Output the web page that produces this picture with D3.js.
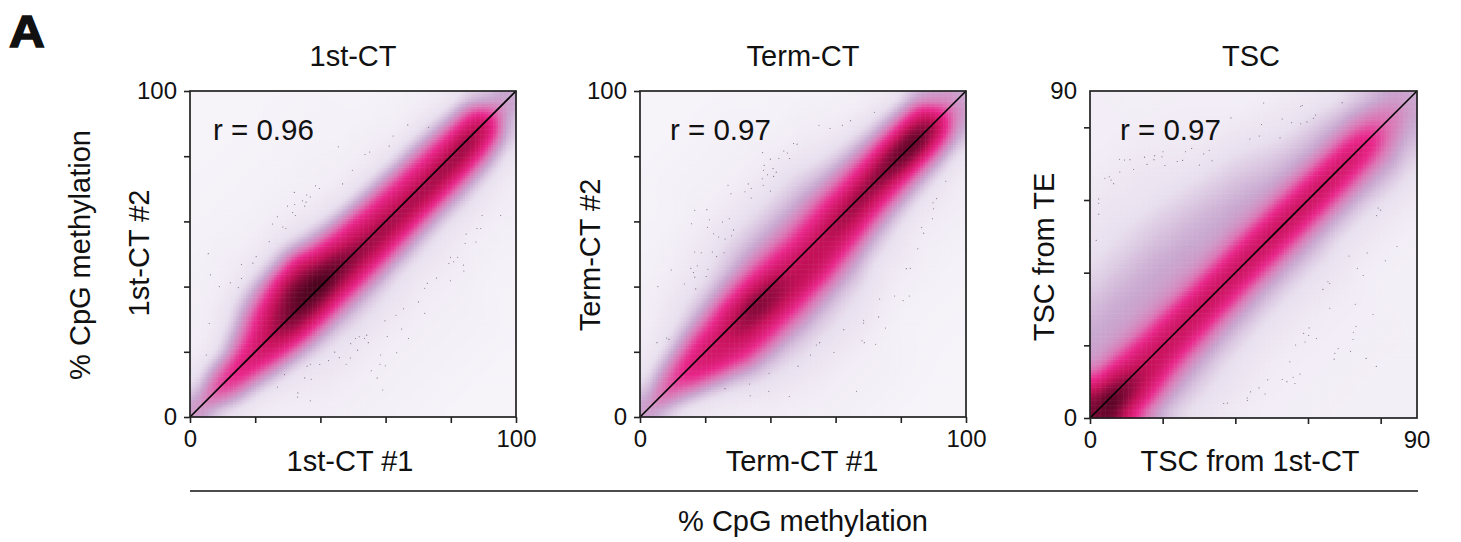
<!DOCTYPE html>
<html>
<head>
<meta charset="utf-8">
<script src="https://cdn.jsdelivr.net/npm/d3@7"></script>
<style>
body { margin: 0; background: #fff; }
text { font-family: "Liberation Sans", Arial, sans-serif; fill: #111; }
</style>
</head>
<body>
<div id="app"></div>
<script>
// density, on diagonal coordinates:
// along = (x+y)/2, across = y-x, both in % of the axis. One row per along value.
const along = [0,5,10,15,20,25,30,35,40,45,50,55,60,65,70,75,80,85,90,95,100];
const across = [-80,-50,-40,-30,-24,-20,-16,-12,-8,-4,0,4,8,12,16,20,24,30,40,50,80];

const density1 = [
 [0,0,0,0,.1,.2,.3,.4,.6,1.4,2.2,1.4,.6,.4,.3,.2,.1,0,0,0,0],
 [0,0,0,0,.1,.2,.3,.5,1,2.1,3.1,2.1,1,.5,.3,.2,.1,.1,0,0,0],
 [0,0,.1,.1,.2,.3,.6,1.1,2.1,3.4,3.9,3.2,1.8,.9,.5,.3,.2,.1,.1,0,0],
 [0,.1,.2,.3,.4,.5,.8,1.4,2.8,4.1,4.4,3.8,2.1,1,.6,.4,.3,.2,.1,.1,0],
 [0,.1,.3,.4,.5,.7,1.1,2.1,3.6,4.5,4.7,4.3,3.2,2.1,1.1,.7,.5,.3,.2,.1,0],
 [0,.2,.3,.5,.7,.9,1.4,2.8,4.3,5,5.2,4.9,4.4,3.5,2.2,1.3,.8,.4,.2,.1,0],
 [0,.2,.3,.6,.8,1.1,1.8,3.3,4.7,5.6,6.1,5.7,5.1,4.4,3.1,1.9,1,.5,.3,.1,0],
 [0,.2,.3,.6,.9,1.2,1.9,3.4,4.9,5.8,6.6,6.4,6,5,4,2.1,1.1,.5,.2,.1,0],
 [0,.2,.3,.6,1,1.3,2,3.4,4.8,5.8,6.9,6.6,5.7,5.1,4.1,2.3,1.2,.6,.2,.1,0],
 [0,.2,.3,.6,1,1.3,2,3.4,4.8,5.5,6.4,6,5.1,4.2,2.8,1.5,.9,.5,.2,.1,0],
 [0,.2,.3,.6,.9,1.2,2,3.4,4.7,5.4,5.9,5.3,4.6,3.7,2.1,1.1,.7,.4,.2,.1,0],
 [0,.2,.3,.5,.8,1.1,1.9,3.3,4.7,5.4,5.6,4.9,4.4,3.3,1.7,.9,.6,.3,.2,.1,0],
 [0,.2,.3,.5,.8,1.1,1.8,3.2,4.6,5.4,5.5,4.8,4.2,3,1.5,.8,.5,.3,.2,.1,0],
 [0,.1,.3,.5,.7,1,1.7,3.1,4.6,5.3,5.4,4.6,4.1,2.8,1.4,.8,.5,.3,.1,.1,0],
 [0,.1,.2,.4,.7,1,1.6,3,4.6,5.4,5.4,4.6,4,2.6,1.3,.7,.5,.3,.1,.1,0],
 [0,.1,.2,.4,.7,1,1.6,3,4.6,5.4,5.5,4.6,3.9,2.5,1.3,.7,.4,.2,.1,0,0],
 [0,.1,.2,.4,.6,.9,1.5,2.9,4.5,5.5,5.6,4.6,3.8,2.3,1.2,.7,.4,.2,.1,0,0],
 [0,.1,.2,.3,.5,.8,1.3,2.6,4.3,5.3,5.7,4.8,3.7,2,1,.6,.4,.2,.1,0,0],
 [0,.1,.2,.3,.4,.6,1,1.8,3.4,4.7,5.1,4.6,3.4,1.8,.9,.5,.3,.1,0,0,0],
 [0,0,.1,.2,.3,.4,.5,.8,1.2,2.2,2.7,2.2,1.2,.8,.5,.3,.2,.1,0,0,0],
 [0,0,.1,.2,.3,.4,.5,.7,1,1.5,1.8,1.5,1,.7,.5,.3,.2,.1,0,0,0]
];
const density2 = [
 [0,0,0,0,.1,.2,.3,.4,.7,1.4,2,1.4,.7,.4,.3,.2,.1,0,0,0,0],
 [0,0,0,.1,.2,.3,.4,.6,1.1,2.1,3,2.1,1.1,.6,.4,.3,.2,.1,0,0,0],
 [0,0,.1,.2,.3,.4,.6,1,1.9,3.1,3.7,3.1,1.9,1,.6,.4,.3,.1,.1,0,0],
 [0,.1,.2,.3,.5,.7,1.1,1.9,3.4,4.2,4.4,3.9,2.6,1.4,.8,.6,.4,.2,.1,.1,0],
 [0,.1,.3,.5,.9,1.2,1.9,3.3,4.3,4.7,4.7,4.3,3.3,2,1.2,.8,.6,.4,.2,.1,0],
 [0,.2,.4,.8,1.3,2,3.2,4.2,4.7,4.9,4.9,4.4,3.7,2.4,1.5,1.1,.8,.5,.2,.1,0],
 [0,.3,.5,1,1.5,2.3,3.5,4.4,5,5.5,5.5,4.8,4.1,2.8,1.8,1.2,.9,.6,.3,.1,0],
 [0,.3,.6,1.1,1.6,2.4,3.5,4.4,5.2,5.9,6,5.1,4.2,3.1,2,1.4,1.1,.7,.4,.1,0],
 [0,.3,.6,1.1,1.7,2.5,3.5,4.5,5.2,5.6,5.7,4.9,4.1,3.1,2.2,1.6,1.3,.9,.4,.2,0],
 [0,.3,.6,1.1,1.6,2.4,3.3,4.5,5.1,5.1,5.1,4.6,3.9,3,2.2,1.7,1.3,.9,.4,.2,0],
 [0,.2,.6,1,1.5,2.2,3.3,4.4,5,5.1,5,4.4,3.8,2.9,2.2,1.7,1.3,.9,.4,.2,0],
 [0,.1,.4,.9,1.4,2,2.9,4.1,4.8,5.1,5.1,4.5,3.9,3,2.2,1.7,1.3,.9,.4,.2,0],
 [0,.1,.3,.6,1,1.6,2.4,3.8,4.7,5.3,5.4,4.7,4.1,3.1,2.2,1.7,1.3,.9,.4,.2,0],
 [0,.1,.3,.6,.9,1.3,2,3.3,4.5,5.3,5.7,4.9,4.1,3.1,2.1,1.5,1.1,.7,.3,.1,0],
 [0,.1,.2,.4,.7,1.1,1.7,2.9,4.3,5.1,5.9,5.1,4.2,3.1,2,1.3,.9,.5,.3,.1,0],
 [0,.1,.2,.4,.6,.9,1.5,2.7,4.2,5.3,6.1,5.5,4.4,3.1,1.8,1.2,.7,.4,.2,.1,0],
 [0,.1,.2,.4,.6,.8,1.4,2.5,4.2,5.7,6.4,5.9,4.6,3.1,1.7,1,.6,.3,.1,0,0],
 [0,.1,.2,.3,.5,.8,1.2,2.4,4.2,5.6,6.6,5.9,4.7,3,1.5,.9,.5,.3,.1,0,0],
 [0,.1,.2,.3,.4,.6,1.1,2,3.6,4.9,5.6,5.1,4.3,2.8,1.4,.7,.4,.2,.1,0,0],
 [0,0,.1,.2,.3,.4,.7,1.1,1.9,2.7,3.1,2.7,1.9,1.1,.6,.3,.2,.1,0,0,0],
 [0,0,.1,.2,.3,.4,.5,.7,1,1.4,1.6,1.4,1,.7,.5,.3,.2,.1,0,0,0]
];
const density3 = [
 [.2,.3,.4,.7,1,1.4,2,3,4.4,5.4,5.8,5.4,4.6,3,2.2,2,1.9,1.7,1.2,.8,.3],
 [.2,.3,.4,.7,1,1.4,2.5,4.2,5.4,6.6,6.6,5.8,4.8,3.6,2.4,2.1,2,1.8,1.3,.8,.3],
 [.2,.3,.5,1,1.4,1.9,2.8,4.2,5,5.8,6,5.2,4.4,3.2,2.3,2.1,2,1.8,1.3,.8,.3],
 [.2,.3,.5,.9,1.3,1.8,2.5,3.7,4.7,5.1,5.2,4.7,4.1,3,2.3,2.1,2,1.8,1.3,.8,.3],
 [.2,.3,.5,.9,1.3,1.7,2.3,3.2,4.3,4.9,5,4.6,3.9,2.9,2.3,2.1,2,1.8,1.3,.9,.3],
 [.2,.3,.5,.9,1.2,1.6,2.1,3,4.1,4.8,5,4.6,3.9,2.8,2.3,2.1,2,1.8,1.3,.9,.3],
 [.2,.3,.5,.8,1.1,1.5,2,2.8,4,4.7,5,4.6,3.9,2.7,2.3,2.1,2,1.8,1.3,.9,.3],
 [.2,.3,.4,.7,1.1,1.4,1.9,2.6,3.9,4.7,5,4.6,3.8,2.7,2.3,2.1,2,1.8,1.3,.9,.3],
 [.2,.3,.4,.7,1,1.4,1.9,2.5,3.8,4.6,5,4.6,3.8,2.7,2.2,2.1,2,1.7,1.3,.8,.3],
 [.2,.3,.4,.7,1,1.3,1.8,2.4,3.7,4.6,5,4.6,3.8,2.7,2.2,2,1.9,1.7,1.2,.8,.3],
 [.2,.3,.4,.7,1,1.3,1.8,2.4,3.7,4.6,5,4.6,3.8,2.7,2.2,2,1.9,1.6,1.1,.7,.3],
 [.2,.3,.4,.7,1,1.3,1.8,2.4,3.7,4.6,5,4.6,3.8,2.6,2.2,2,1.8,1.5,1,.6,.2],
 [.2,.3,.4,.7,1,1.3,1.8,2.4,3.7,4.6,5,4.6,3.7,2.6,2.1,1.9,1.7,1.4,.9,.5,.2],
 [.2,.2,.3,.6,.9,1.2,1.7,2.4,3.6,4.6,5,4.5,3.6,2.5,2,1.7,1.5,1.2,.8,.4,.2],
 [.2,.2,.3,.6,.9,1.2,1.7,2.4,3.6,4.6,4.9,4.5,3.5,2.4,1.9,1.6,1.3,1,.6,.3,.2],
 [.2,.2,.3,.6,.9,1.2,1.7,2.4,3.5,4.5,4.8,4.4,3.4,2.3,1.8,1.5,1.2,.8,.5,.2,.2],
 [.2,.2,.3,.6,1,1.3,1.8,2.3,3.4,4.4,4.7,4.3,3.3,2.3,1.8,1.4,1.1,.7,.4,.2,.2],
 [.2,.2,.3,.6,1,1.3,1.8,2.3,3.1,4,4.3,3.9,3,2.2,1.6,1.2,.9,.6,.3,.2,.2],
 [.2,.2,.3,.5,.9,1.1,1.5,1.9,2.4,3,3.2,3,2.4,1.9,1.4,1.1,.8,.5,.3,.2,.2],
 [.2,.2,.3,.5,.8,1,1.3,1.6,1.9,2.3,2.5,2.3,2,1.5,1.2,.9,.6,.4,.3,.2,.2],
 [.2,.2,.3,.5,.8,1,1.2,1.4,1.6,1.7,1.8,1.7,1.6,1.3,1.1,.8,.6,.4,.3,.2,.2]
];

// outlier specks [x, y] in axis units
const points1 = [[66.8,89.6],[73.2,88.9],[62.3,86.2],[61.1,83.1],[45.5,82.9],[55.1,81.3],[53.7,80.5],[49.8,75.7],[46.8,71.5],[38.5,70.9],[39.7,70.1],[32,68.9],[36.9,67.5],[35.8,68.1],[34.5,66.3],[35.6,65.9],[29.9,64.7],[32.1,65.2],[35.2,64.7],[31.5,62.7],[32.3,61.8],[26.8,61.4],[25.3,59.2],[28.5,58.3],[29.4,57.8],[24.3,53.8],[5.6,50.1],[20.3,49.2],[15.8,46.8],[19.3,47.2],[6.3,43.6],[15.8,42.5],[12.4,41.2],[9,40],[14.8,39.7],[5.9,28.7],[5,19],[89.6,61.8],[95.3,61.8],[88,57.8],[89.2,57.8],[84.7,56.1],[84.4,53.2],[87.7,53.7],[79.9,49],[82.1,49],[80.9,47.6],[79.4,47.1],[83.9,46.6],[84,44.8],[79.9,41.8],[75.6,42.6],[72.8,41],[72,39.5],[70.1,35.3],[65.5,33.2],[63.2,31.2],[72,31.8],[59.8,29.5],[64.9,27],[60.5,24.7],[67,24.1],[51.9,24.6],[50.8,24.1],[53.5,24.1],[54.2,25.1],[54.7,22.8],[49.3,22.5],[51.4,20.5],[44.4,19.9],[45.8,18.2],[63.4,19.7],[58.5,19],[49.2,18.1],[42.5,17.3],[47.9,16.2],[39.8,16.1],[36.9,16.2],[35.9,15.6],[58.3,16.2],[59.9,15.7],[55.6,14.2],[29,13],[35.2,12],[37.2,11.6],[57.4,12],[26.8,9.2],[59.1,8.3],[33.1,7.4],[33,6.1],[36.9,5]];
const points2 = [[71.9,93.5],[64.6,90.9],[62.1,89.5],[58.3,88.5],[54.9,89.5],[47.1,83.9],[48.2,83.7],[44.1,81.6],[45.2,81],[37.6,81.1],[45.9,79.3],[40,79.1],[42.6,79.3],[38.1,77.2],[40.8,76.2],[37.9,75.7],[41.8,75.1],[39.1,74.3],[41,73.8],[37.5,73.1],[37.8,71.1],[27,71.1],[33.2,71.5],[34.1,70.1],[32.2,69.1],[40,69.3],[27.9,68.5],[34.1,67.2],[16.8,63.4],[20.5,63.6],[21.3,60.5],[27.4,60.8],[25.3,59.8],[15.8,59.3],[20.7,58.2],[28.7,57.4],[22.6,56.2],[28.1,55.6],[24.1,55.2],[26.1,54.6],[16.8,50.6],[18.8,50.4],[22.2,50.6],[25.8,50.4],[23.5,49.2],[17.6,46.4],[15.6,45.6],[20.8,45.3],[9.6,45.1],[16.4,44.3],[16.8,42.9],[20.3,43.1],[13.6,40.8],[5.5,40],[17.1,39.3],[5.2,22.8],[8.2,24.2],[8.9,23.8],[93.8,72.3],[91,67],[89.9,65.7],[90,63.9],[89.7,60.8],[86.4,58.1],[87,56.4],[85.2,51.6],[81.7,45.5],[82.9,45.6],[78.1,37.1],[82.6,37.1],[80.7,35.7],[73.5,36.2],[73.2,30.7],[68.6,29.7],[68.6,28.8],[75.3,27.3],[62.5,26.8],[68.1,23.4],[68.8,22.8],[72.3,22.3],[55.1,22.8],[54.1,22.1],[59.5,19.8],[52.3,19],[48.5,15.6],[39.6,13.4],[33.6,10.1],[26.1,8.7],[39.5,7.9],[33.8,6.5],[45.8,6.3],[66.4,7.9]];
const points3 = [[47.8,86.7],[58,85.8],[58.4,86],[69.4,86.8],[38.8,82.6],[62.1,83.4],[61.5,82.5],[59.7,81.5],[58,81],[55.5,81.3],[52.9,82.3],[47.2,80.8],[46.6,77.6],[44,76.8],[52.3,77.1],[28,74.2],[32.8,73.7],[31.3,72.7],[26.3,73.3],[20.1,73.3],[17.8,72.2],[15,71.8],[8.1,71.2],[9.5,71],[11,71.1],[17.6,71.1],[19.8,71.9],[24,70.6],[25.5,70.9],[33.6,70.8],[15.7,69.8],[20.6,69.5],[30.1,69.6],[12,68.4],[8.2,67.7],[4.1,66],[5.3,66.4],[5.8,65.5],[6.5,64.5],[2.4,60.3],[2.4,59.1],[2.4,56.1],[1.7,48.9],[79.3,57.8],[80,57.2],[78.9,55.7],[84.5,47.2],[76.3,45.4],[71.3,44.6],[81.3,43.3],[73.6,41.2],[75.2,39.2],[65.5,37.5],[66,37],[64.1,35.4],[73,31.3],[66,30.2],[77.9,28.5],[73.2,25.2],[72.5,23.6],[60.3,24.8],[58.8,23.3],[60.2,22.7],[62.3,21.9],[59.2,20.9],[56.6,20.1],[72.4,21.6],[68.3,19.1],[67.4,17.8],[71.7,18.3],[67.2,16.2],[76,16.4],[78.8,14.2],[55,15.5],[57.8,12.1],[55.9,11.2],[52.9,10.6],[54.2,10],[56.4,9.5],[48.9,10.5],[46.5,8.3],[44.2,7.2],[48.2,6.6],[43.3,5.5],[43.3,4.8],[36.8,4],[37.8,4.1]];

const titles = ["1st-CT","Term-CT","TSC"];
const xLabels = ["1st-CT #1","Term-CT #1","TSC from 1st-CT"];
const yLabels = ["1st-CT #2","Term-CT #2","TSC from TE"];
const rValues = ["r = 0.96","r = 0.97","r = 0.97"];
const axisMax = [100,100,90];
const ticks100 = [0,20,40,60,80,100];
const ticks90 = [0,20,40,60,80];

const width = 1461, height = 542;
const svg = d3.select("#app").append("svg")
  .attr("width", width).attr("height", height)
  .attr("viewBox", [0,0,width,height])
  .style("display","block");

// density level -> colour
const levels = [0,1,2,3,4,5,6,7];
const colors = ["#f6f3f9","#e8dfee","#c9a8d0","#dc74b4","#e9278b","#c6125a","#760832","#300212"];
const color = d3.scaleLinear().domain(levels).range(colors).clamp(true);

const alongScale = d3.scaleLinear().domain(along).range(along.map((d,i)=>i)).clamp(true);
const acrossScale = d3.scaleLinear().domain(across).range(across.map((d,i)=>i)).clamp(true);

function lookup(table, x, y) {
  const a = alongScale((x+y)/2), b = acrossScale(y-x);
  const i = Math.min(Math.floor(a), along.length-2), j = Math.min(Math.floor(b), across.length-2);
  const u = a-i, v = b-j;
  return (table[i][j]*(1-v)+table[i][j+1]*v)*(1-u) + (table[i+1][j]*(1-v)+table[i+1][j+1]*v)*u;
}

const nCells = 128;
const cellIdx = d3.range(nCells);

function drawPanel(p) {
  const g = svg.append("g").attr("transform", `translate(${p.left},${p.top})`);
  const x = d3.scaleLinear().domain([0,p.max]).range([0,p.size]);
  const y = d3.scaleLinear().domain([0,p.max]).range([p.size,0]);
  const band = d3.scaleBand().domain(cellIdx).range([0,p.size]);

  // look the table up on a fine grid, then a box blur to hide the kinks
  const raw = cellIdx.map(r => cellIdx.map(c => lookup(p.table, (c+.5)/nCells*100, (r+.5)/nCells*100)));
  const smooth = cellIdx.map(r => cellIdx.map(c => {
    let s = 0, n = 0;
    for (let a=-3;a<=3;a++) for (let b=-3;b<=3;b++) {
      if (raw[r+a] && raw[r+a][c+b] !== undefined) { s += raw[r+a][c+b]; n++; }
    }
    return s/n;
  }));

  const cells = [];
  smooth.forEach((row,r) => row.forEach((v,c) => cells.push({r,c,v})));
  g.append("g").selectAll("rect").data(cells).join("rect")
    .attr("x", d => band(d.c))
    .attr("y", d => p.size - band(d.r) - band.bandwidth())
    .attr("width", band.bandwidth()+.5)
    .attr("height", band.bandwidth()+.5)
    .attr("fill", d => color(d.v));

  g.append("g").selectAll("circle").data(p.points).join("circle")
    .attr("cx", d => x(d[0])).attr("cy", d => y(d[1]))
    .attr("r", .55).attr("fill", "#4a3350").attr("fill-opacity", .7);

  g.append("line")
    .attr("x1", x(0)).attr("y1", y(0)).attr("x2", x(p.max)).attr("y2", y(p.max))
    .attr("stroke", "#000").attr("stroke-width", 1.6);

  g.append("rect").attr("width", p.size).attr("height", p.size)
    .attr("fill", "none").attr("stroke", "#222").attr("stroke-width", 1.7);

  const endLabel = d => (d===0 || d===p.max) ? d : "";
  const xAxis = g.append("g").attr("transform", `translate(0,${p.size})`)
    .call(d3.axisBottom(x).tickValues(p.ticks).tickSize(6).tickPadding(7).tickFormat(endLabel));
  const yAxis = g.append("g")
    .call(d3.axisLeft(y).tickValues(p.ticks).tickSize(6).tickPadding(7).tickFormat(endLabel));
  [xAxis,yAxis].forEach(a => {
    a.select(".domain").remove();
    a.selectAll(".tick line").attr("stroke","#222").attr("stroke-width",1.6);
    a.selectAll("text").attr("font-size",24).attr("font-family","Liberation Sans");
  });
  if (p.max === 90) {
    // the last label has no tick of its own
    g.append("text").attr("x", x(90)).attr("y", p.size+30).attr("text-anchor","middle").attr("font-size",24).text("90");
    g.append("text").attr("x", -13).attr("y", y(90)+8).attr("text-anchor","end").attr("font-size",24).text("90");
  }

  g.append("text").attr("x", p.rX).attr("y", 49).attr("font-size",29.5).text(p.r);
  svg.append("text").attr("x", p.titleX).attr("y", 66).attr("text-anchor","middle").attr("font-size",29).text(p.title);
  svg.append("text").attr("x", p.xLabelX).attr("y", 471).attr("text-anchor","middle").attr("font-size",29).text(p.xLabel);
  svg.append("text").attr("transform", `translate(${p.yLabelX},${p.yLabelY}) rotate(-90)`)
    .attr("text-anchor","middle").attr("font-size",29).text(p.yLabel);
}

drawPanel({left:190, top:91, size:326, max:axisMax[0], ticks:ticks100, table:density1, points:points1,
  r:rValues[0], rX:23, title:titles[0], xLabel:xLabels[0], yLabel:yLabels[0], titleX:353, xLabelX:350, yLabelX:149, yLabelY:253});
drawPanel({left:640, top:91, size:326, max:axisMax[1], ticks:ticks100, table:density2, points:points2,
  r:rValues[1], rX:30, title:titles[1], xLabel:xLabels[1], yLabel:yLabels[1], titleX:803, xLabelX:802, yLabelX:600, yLabelY:255});
drawPanel({left:1090, top:91, size:327, max:axisMax[2], ticks:ticks90, table:density3, points:points3,
  r:rValues[2], rX:30, title:titles[2], xLabel:xLabels[2], yLabel:yLabels[2], titleX:1251, xLabelX:1250, yLabelX:1054, yLabelY:257});

svg.append("text").attr("transform","translate(90,255) rotate(-90)")
  .attr("text-anchor","middle").attr("font-size",29).text("% CpG methylation");
svg.append("line").attr("x1",190).attr("x2",1418).attr("y1",491).attr("y2",491)
  .attr("stroke","#111").attr("stroke-width",1.5);
svg.append("text").attr("x",803).attr("y",531).attr("text-anchor","middle").attr("font-size",29).text("% CpG methylation");
svg.append("text").attr("transform","translate(9,47) scale(1.1,1)").attr("font-size",45).attr("font-weight","bold")
  .attr("stroke","#111").attr("stroke-width",1.5).text("A");
</script>
</body>
</html>
